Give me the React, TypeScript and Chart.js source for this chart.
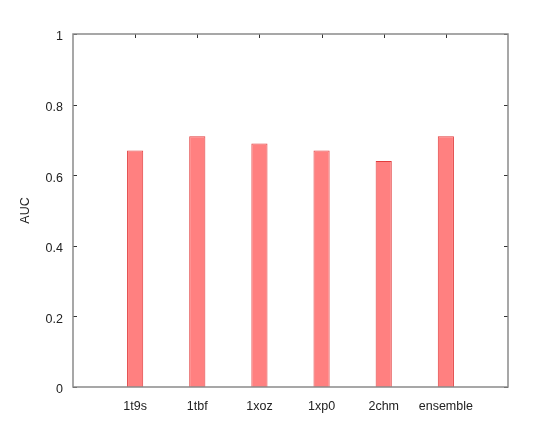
import React, { useEffect, useRef } from "react";
import { Chart, registerables } from "chart.js";

Chart.register(...registerables);

const categories = ["1t9s", "1tbf", "1xoz", "1xp0", "2chm", "ensemble"];
const aucValues = [0.67, 0.71, 0.69, 0.67, 0.64, 0.71];
const yTicks = [0, 0.2, 0.4, 0.6, 0.8, 1];

const paddedLabels = ["", ...categories, ""];
const paddedValues: (number | null)[] = [null, ...aucValues, null];

const boxPlugin = {
  id: "boxPlugin",
  afterDraw(chart: any) {
    const { ctx, chartArea, scales } = chart;
    const { left, right, top, bottom } = chartArea;
    ctx.save();
    ctx.strokeStyle = "#333";
    ctx.lineWidth = 1;
    ctx.beginPath();
    for (const v of yTicks) {
      const y = Math.round(scales.y.getPixelForValue(v)) + 0.5;
      ctx.moveTo(left, y);
      ctx.lineTo(left + 4, y);
      ctx.moveTo(right, y);
      ctx.lineTo(right - 4, y);
    }
    categories.forEach((_, i) => {
      const x = Math.round(scales.x.getPixelForValue(i + 1)) + 0.5;
      ctx.moveTo(x, top);
      ctx.lineTo(x, top + 4);
    });
    ctx.stroke();
    ctx.strokeStyle = "#8a8a8a";
    ctx.lineWidth = 1.5;
    ctx.strokeRect(left, top, right - left, bottom - top);
    ctx.restore();
  },
};

export default function App() {
  const ref = useRef<HTMLCanvasElement>(null);
  useEffect(() => {
    document.body.style.margin = "0";
    const font = { family: "'Liberation Sans', Arial, sans-serif", size: 12.5 };
    const chart = new Chart(ref.current!, {
      type: "bar",
      data: {
        labels: paddedLabels,
        datasets: [
          {
            data: paddedValues,
            backgroundColor: "rgb(255,128,128)",
            borderColor: "rgb(225,60,60)",
            borderWidth: 1,
            borderSkipped: "bottom",
            barPercentage: 1,
            categoryPercentage: 0.26,
          },
        ],
      },
      options: {
        animation: false,
        responsive: false,
        maintainAspectRatio: false,
        layout: { padding: { left: 0, top: 34, right: 38, bottom: 0 } },
        plugins: { legend: { display: false }, tooltip: { enabled: false } },
        scales: {
          x: {
            offset: false,
            grid: { display: false, drawTicks: false },
            border: { display: false },
            ticks: { padding: 12, color: "#222", font, autoSkip: false, maxRotation: 0 },
            afterFit: (s: any) => {
              s.height = 36;
            },
          },
          y: {
            min: 0,
            max: 1,
            afterBuildTicks: (s: any) => {
              s.ticks = yTicks.map((v) => ({ value: v }));
            },
            grid: { display: false, drawTicks: false },
            border: { display: false },
            ticks: { padding: 10, labelOffset: 3, color: "#222", font, callback: (v: any) => String(v) },
            title: { display: true, text: "AUC", color: "#222", font, padding: { top: 18, bottom: 0 } },
            afterFit: (s: any) => {
              s.width = 73;
            },
          },
        },
      },
      plugins: [boxPlugin],
    });
    return () => chart.destroy();
  }, []);
  return (
    <div style={{ position: "absolute", left: 0, top: 0, width: 546, height: 423, background: "#fff" }}>
      <canvas ref={ref} width={546} height={423} />
    </div>
  );
}
